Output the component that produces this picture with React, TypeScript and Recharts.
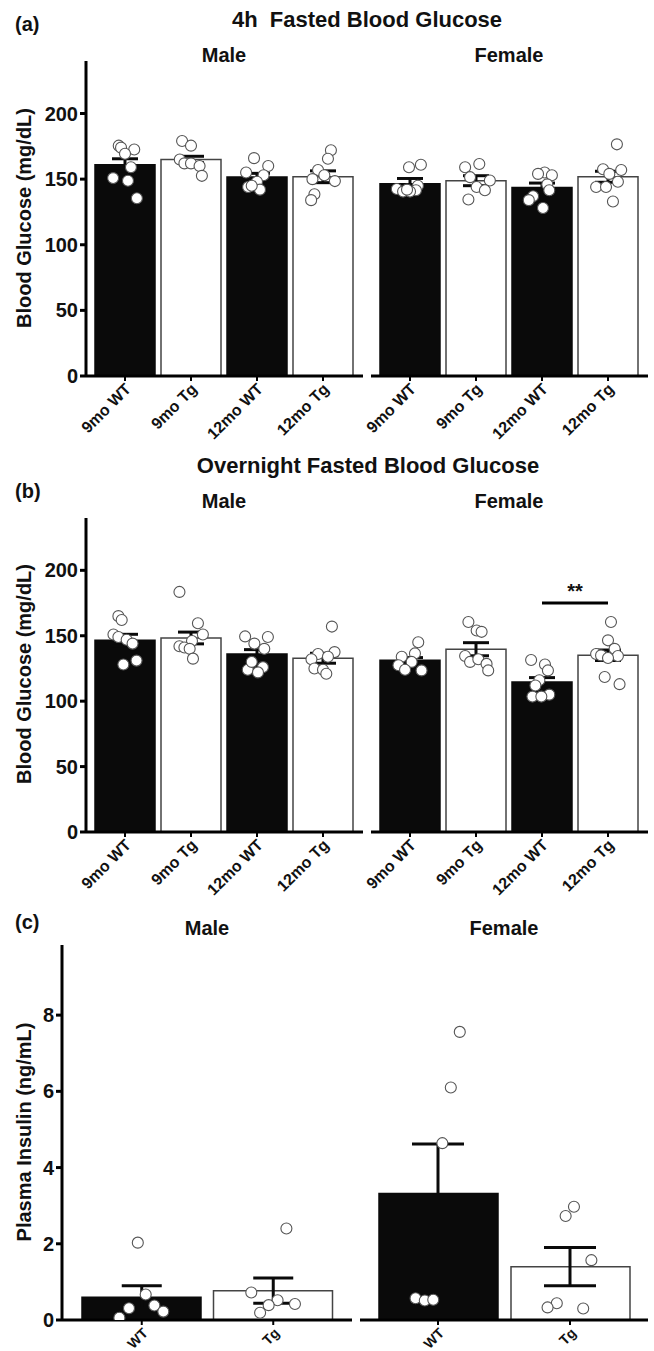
import {
  Bar,
  Cell,
  ComposedChart,
  ErrorBar,
  ReferenceLine,
  Scatter,
  XAxis,
  YAxis,
} from 'recharts';

const FONT = '"Liberation Sans", Arial, Helvetica, sans-serif';
const INK = '#111';
const BAR_DARK = '#0a0a0a';
const BAR_OUTLINE = '#444';

const GLUCOSE_GROUPS = ['9mo WT', '9mo Tg', '12mo WT', '12mo Tg'];
const INSULIN_GROUPS = ['WT', 'Tg'];
const GLUCOSE_TICKS = [0, 50, 100, 150, 200];
const INSULIN_TICKS = [0, 2, 4, 6, 8];

// (a) 4h fasted blood glucose, mg/dL
const fast4hMaleMean = [161, 165, 151.6, 151.8];
const fast4hMaleSem = [4.5, 2.4, 2.8, 4.5];
const fast4hMalePoints = [
  [175.5, 174, 172.6, 169.3, 159, 150.8, 148.8, 135.4],
  [179, 175.5, 165, 162, 162, 160, 152.5],
  [166, 160, 155, 153, 148, 144, 142, 145],
  [172, 165.5, 157, 153, 150, 148.5, 138.5, 134],
];
const fast4hMaleJitter = [
  [-0.095, -0.06, 0.14, 0, 0.09, -0.18, 0.045, 0.18],
  [-0.135, 0, -0.17, -0.1, 0, 0.13, 0.165],
  [-0.045, 0.17, -0.165, 0.1, 0, -0.135, 0.045, -0.08],
  [0.12, 0.075, -0.075, 0.02, -0.16, 0.18, -0.13, -0.18],
];
const fast4hFemaleMean = [146.5, 148.8, 143.7, 151.8];
const fast4hFemaleSem = [4, 3.8, 3.3, 4.2];
const fast4hFemalePoints = [
  [161, 159, 145, 142.5, 141.5, 140.5, 140.5, 142],
  [159, 161.5, 151.5, 149, 144, 141.5, 134.5],
  [155, 154, 153, 146, 141.5, 137, 134, 128],
  [176.5, 157.5, 157, 154, 148, 144, 144, 133],
];
const fast4hFemaleJitter = [
  [0.165, -0.015, 0.12, -0.2, 0.09, -0.105, 0, -0.045],
  [-0.165, 0.05, -0.09, 0.21, 0.01, 0.135, -0.115],
  [0.04, -0.06, 0.15, 0.08, 0.11, -0.135, -0.2, 0.015],
  [0.135, -0.075, 0.2, 0.02, 0.15, -0.18, -0.03, 0.075],
];

// (b) overnight fasted blood glucose, mg/dL
const overnightMaleMean = [146.6, 148.3, 136.1, 132.8];
const overnightMaleSem = [4.5, 4.5, 3.3, 3.8];
const overnightMalePoints = [
  [165, 162, 151, 149, 147, 144, 128, 131],
  [183.5, 159.5, 151, 146, 142, 141, 140, 132.5],
  [149.5, 149, 144, 140, 126, 124, 122, 130],
  [157, 137.5, 136, 134, 132, 125, 124, 121],
];
const overnightMaleJitter = [
  [-0.1, -0.05, -0.175, -0.1, 0.025, 0.115, -0.025, 0.175],
  [-0.175, 0.105, 0.18, 0.015, -0.175, -0.1, -0.02, 0.03],
  [-0.18, 0.165, -0.04, 0.11, 0.09, -0.14, 0.015, -0.08],
  [0.135, 0.175, -0.075, 0.075, -0.175, -0.13, 0, 0.05],
];
const overnightFemaleMean = [131.3, 139.7, 114.7, 135.1];
const overnightFemaleSem = [2, 5, 3.3, 4];
const overnightFemalePoints = [
  [145, 136.5, 134, 130, 127.5, 124, 123.5],
  [160.5, 154, 153, 134.5, 130, 132, 128.5, 123.5],
  [131.5, 128, 123.5, 116, 112, 105, 103.5, 103.5],
  [160.5, 146.5, 140, 136, 135, 134.5, 133, 118.5, 113],
];
const overnightFemaleJitter = [
  [0.125, 0.075, -0.125, 0.025, -0.175, -0.075, 0.175],
  [-0.115, 0.01, 0.085, -0.165, -0.09, 0.035, 0.16, 0.185],
  [-0.165, 0.045, 0.09, -0.04, -0.1, 0.11, -0.145, -0.01],
  [0.045, 0, 0.1, -0.18, -0.105, 0.15, 0, -0.05, 0.175],
];
// 12mo WT vs 12mo Tg, females
const overnightFemaleSig = { from: 2, to: 3, level: 175, text: '**' };

// (c) plasma insulin, ng/mL
const insulinMaleMean = [0.6, 0.77];
const insulinMaleSem = [0.3, 0.33];
const insulinMalePoints = [
  [2.03, 0.67, 0.31, 0.38, 0.22, 0.06],
  [2.4, 0.72, 0.52, 0.39, 0.42, 0.19],
];
const insulinMaleJitter = [
  [-0.03, 0.03, -0.097, 0.096, 0.164, -0.17],
  [0.1, -0.167, 0.033, -0.035, 0.165, -0.1],
];
const insulinFemaleMean = [3.32, 1.4];
const insulinFemaleSem = [1.3, 0.5];
const insulinFemalePoints = [
  [7.56, 6.1, 4.64, 0.57, 0.51, 0.53],
  [2.97, 2.73, 1.57, 0.44, 0.33, 0.3],
];
const insulinFemaleJitter = [
  [0.165, 0.097, 0.033, -0.17, -0.1, -0.036],
  [0.03, -0.033, 0.162, -0.1, -0.17, 0.1],
];

type Plot = { left: number; right: number; top: number; bottom: number };

type SubplotProps = {
  groups: string[];
  mean: number[];
  sem: number[];
  points: number[][];
  jitter: number[][];
  domain: [number, number];
  ticks: number[];
  showYAxis: boolean;
  plot: Plot;
  padding: { left: number; right: number };
  barSize: number;
  cap: number;
  tickFont: number;
  sig?: { from: number; to: number; level: number; text: string };
};

function SlantTick(props: any) {
  const { x, y, payload, fontSize } = props;
  const ax = x + 7;
  const ay = y + 7;
  return (
    <text
      x={ax}
      y={ay}
      textAnchor="end"
      transform={`rotate(-45 ${ax} ${ay})`}
      fontSize={fontSize}
      fontWeight="bold"
      fontFamily={FONT}
      fill={INK}
    >
      {payload.value}
    </text>
  );
}

const Dot = (props: any) => (
  <circle cx={props.cx} cy={props.cy} r={5.5} fill="#fff" stroke="#555" strokeWidth={1.1} />
);

const NoMark = () => <g />;

// room left of a plot without its own y axis, so slanted labels are not clipped
const GUTTER = 44;

function Subplot(p: SubplotProps) {
  const rows = p.groups.map((name, i) => ({ name, y: p.mean[i], sem: p.sem[i] }));
  const dots = p.points.flatMap((vals, i) =>
    vals.map((v, k) => ({ x: i + p.jitter[i][k], y: v })),
  );
  const centers = p.groups.map((_, i) => ({ x: i, y: p.mean[i], sem: p.sem[i] }));

  const yAxisWidth = p.showYAxis ? p.plot.left : 0;
  const marginLeft = p.showYAxis ? 0 : GUTTER;
  const boxLeft = p.plot.left - yAxisWidth - marginLeft;
  const width = p.plot.right - boxLeft + 4;
  const axisHeight = 70;
  const height = p.plot.bottom - p.plot.top + 10 + axisHeight;

  return (
    <div style={{ position: 'absolute', left: boxLeft, top: p.plot.top - 10 }}>
      <ComposedChart
        width={width}
        height={height}
        data={rows}
        margin={{ top: 10, right: 4, bottom: 0, left: marginLeft }}
      >
        <XAxis
          xAxisId="cat"
          dataKey="name"
          type="category"
          interval={0}
          padding={p.padding}
          height={axisHeight}
          tickSize={5}
          tickMargin={2}
          axisLine={{ stroke: '#000', strokeWidth: 3 }}
          tickLine={{ stroke: '#000', strokeWidth: 2 }}
          tick={<SlantTick fontSize={p.tickFont} />}
        />
        <XAxis
          xAxisId="num"
          dataKey="x"
          type="number"
          domain={[-0.5, p.groups.length - 0.5]}
          allowDataOverflow
          padding={p.padding}
          hide
        />
        <YAxis
          dataKey="y"
          type="number"
          domain={p.domain}
          ticks={p.ticks}
          allowDataOverflow
          hide={!p.showYAxis}
          width={yAxisWidth}
          tickSize={6}
          tickMargin={2}
          axisLine={{ stroke: '#000', strokeWidth: 3 }}
          tickLine={{ stroke: '#000', strokeWidth: 3 }}
          tick={{ fill: INK, fontSize: 20, fontWeight: 700, fontFamily: FONT }}
        />
        <Bar xAxisId="cat" dataKey="y" barSize={p.barSize} isAnimationActive={false}>
          {rows.map((r, i) => (
            <Cell
              key={r.name}
              fill={i % 2 === 0 ? BAR_DARK : '#fff'}
              stroke={i % 2 === 0 ? BAR_DARK : BAR_OUTLINE}
              strokeWidth={1.5}
            />
          ))}
        </Bar>
        <Scatter xAxisId="num" data={dots} shape={Dot} isAnimationActive={false} />
        <Scatter xAxisId="num" data={centers} shape={NoMark} isAnimationActive={false}>
          <ErrorBar dataKey="sem" direction="y" width={p.cap} stroke={BAR_DARK} strokeWidth={3} />
        </Scatter>
        {p.sig && (
          <ReferenceLine
            xAxisId="num"
            segment={[
              { x: p.sig.from, y: p.sig.level },
              { x: p.sig.to, y: p.sig.level },
            ]}
            stroke="#000"
            strokeWidth={3}
            label={{
              value: p.sig.text,
              position: 'top',
              fontSize: 20,
              fontWeight: 700,
              fontFamily: FONT,
              fill: INK,
            }}
          />
        )}
      </ComposedChart>
    </div>
  );
}

const GLUCOSE_DOMAIN: [number, number] = [0, 240];
const INSULIN_DOMAIN: [number, number] = [0, 9.84];
const GLUCOSE_PAD = { left: 6, right: 7 };

function Labels() {
  const bold = { fontFamily: FONT, fontWeight: 700, fill: INK } as const;
  return (
    <svg
      width={654}
      height={1351}
      style={{ position: 'absolute', left: 0, top: 0 }}
    >
      <text x={15} y={31} fontSize={20} {...bold}>(a)</text>
      <text x={367} y={27} fontSize={22} textAnchor="middle" style={{ whiteSpace: 'pre' }} {...bold}>
        4h  Fasted Blood Glucose
      </text>
      <text x={224} y={62} fontSize={20} textAnchor="middle" {...bold}>Male</text>
      <text x={509} y={62} fontSize={20} textAnchor="middle" {...bold}>Female</text>
      <text x={-218} y={31} transform="rotate(-90)" fontSize={20} textAnchor="middle" {...bold}>
        Blood Glucose (mg/dL)
      </text>

      <text x={15} y={498} fontSize={20} {...bold}>(b)</text>
      <text x={368} y={473} fontSize={22} textAnchor="middle" {...bold}>
        Overnight Fasted Blood Glucose
      </text>
      <text x={224} y={508} fontSize={20} textAnchor="middle" {...bold}>Male</text>
      <text x={509} y={508} fontSize={20} textAnchor="middle" {...bold}>Female</text>
      <text x={-674} y={31} transform="rotate(-90)" fontSize={20} textAnchor="middle" {...bold}>
        Blood Glucose (mg/dL)
      </text>

      <text x={15} y={929} fontSize={20} {...bold}>(c)</text>
      <text x={207} y={935} fontSize={20} textAnchor="middle" {...bold}>Male</text>
      <text x={504} y={935} fontSize={20} textAnchor="middle" {...bold}>Female</text>
      <text x={-1132} y={31} transform="rotate(-90)" fontSize={20} textAnchor="middle" {...bold}>
        Plasma Insulin (ng/mL)
      </text>
    </svg>
  );
}

export default function App() {
  return (
    <div
      style={{
        position: 'absolute',
        left: 0,
        top: 0,
        width: 654,
        height: 1351,
        background: '#fff',
        overflow: 'hidden',
      }}
    >
      <Labels />

      <Subplot
        groups={GLUCOSE_GROUPS}
        mean={fast4hMaleMean}
        sem={fast4hMaleSem}
        points={fast4hMalePoints}
        jitter={fast4hMaleJitter}
        domain={GLUCOSE_DOMAIN}
        ticks={GLUCOSE_TICKS}
        showYAxis
        plot={{ left: 86, right: 363, top: 61, bottom: 376 }}
        padding={GLUCOSE_PAD}
        barSize={60}
        cap={13}
        tickFont={16}
      />
      <Subplot
        groups={GLUCOSE_GROUPS}
        mean={fast4hFemaleMean}
        sem={fast4hFemaleSem}
        points={fast4hFemalePoints}
        jitter={fast4hFemaleJitter}
        domain={GLUCOSE_DOMAIN}
        ticks={GLUCOSE_TICKS}
        showYAxis={false}
        plot={{ left: 371, right: 648, top: 61, bottom: 376 }}
        padding={GLUCOSE_PAD}
        barSize={60}
        cap={13}
        tickFont={16}
      />

      <Subplot
        groups={GLUCOSE_GROUPS}
        mean={overnightMaleMean}
        sem={overnightMaleSem}
        points={overnightMalePoints}
        jitter={overnightMaleJitter}
        domain={GLUCOSE_DOMAIN}
        ticks={GLUCOSE_TICKS}
        showYAxis
        plot={{ left: 86, right: 363, top: 518, bottom: 832 }}
        padding={GLUCOSE_PAD}
        barSize={60}
        cap={13}
        tickFont={16}
      />
      <Subplot
        groups={GLUCOSE_GROUPS}
        mean={overnightFemaleMean}
        sem={overnightFemaleSem}
        points={overnightFemalePoints}
        jitter={overnightFemaleJitter}
        domain={GLUCOSE_DOMAIN}
        ticks={GLUCOSE_TICKS}
        showYAxis={false}
        plot={{ left: 371, right: 648, top: 518, bottom: 832 }}
        padding={GLUCOSE_PAD}
        barSize={60}
        cap={13}
        tickFont={16}
        sig={overnightFemaleSig}
      />

      <Subplot
        groups={INSULIN_GROUPS}
        mean={insulinMaleMean}
        sem={insulinMaleSem}
        points={insulinMalePoints}
        jitter={insulinMaleJitter}
        domain={INSULIN_DOMAIN}
        ticks={INSULIN_TICKS}
        showYAxis
        plot={{ left: 62, right: 352, top: 945, bottom: 1320 }}
        padding={{ left: 14, right: 13 }}
        barSize={119}
        cap={20}
        tickFont={14}
      />
      <Subplot
        groups={INSULIN_GROUPS}
        mean={insulinFemaleMean}
        sem={insulinFemaleSem}
        points={insulinFemalePoints}
        jitter={insulinFemaleJitter}
        domain={INSULIN_DOMAIN}
        ticks={INSULIN_TICKS}
        showYAxis={false}
        plot={{ left: 360, right: 648, top: 945, bottom: 1320 }}
        padding={{ left: 12, right: 12 }}
        barSize={119}
        cap={26}
        tickFont={14}
      />
    </div>
  );
}
